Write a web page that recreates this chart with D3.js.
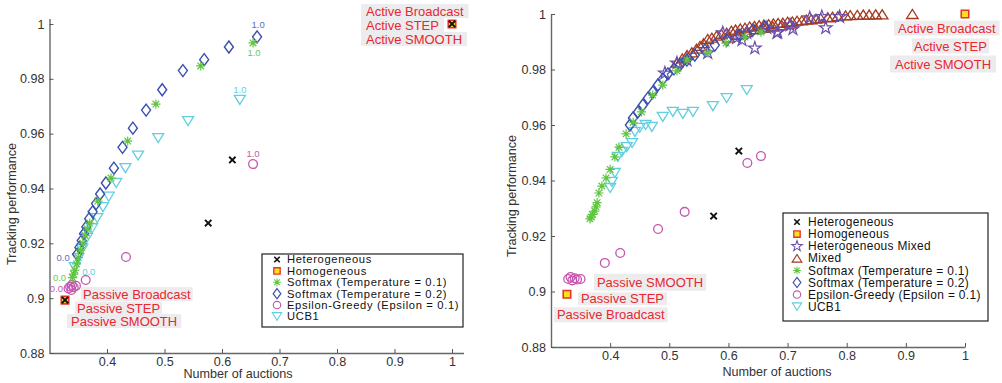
<!DOCTYPE html>
<html>
<head>
<meta charset="utf-8">
<script src="https://cdn.jsdelivr.net/npm/d3@7"></script>
<style>
  body { margin: 0; background: #fff; }
  svg { display: block; font-family: "Liberation Sans", Arial, sans-serif; }
</style>
</head>
<body>
<svg id="chart" width="1002" height="383"></svg>
<script>
// ---- data: [number of auctions, tracking performance] ----
const xTicks = [0.4, 0.5, 0.6, 0.7, 0.8, 0.9, 1]
const yTicks = [0.88, 0.9, 0.92, 0.94, 0.96, 0.98, 1]

// left panel
const leftSoftmax01 = [[0.340, 0.9075], [0.342, 0.9088], [0.344, 0.9102], [0.347, 0.9125], [0.350, 0.9148],
  [0.354, 0.9175], [0.358, 0.9200], [0.362, 0.9228], [0.366, 0.9252], [0.370, 0.9274], [0.384, 0.9354],
  [0.407, 0.9438], [0.436, 0.9573], [0.485, 0.9708], [0.563, 0.9847], [0.654, 0.9931]]
const leftSoftmax02 = [[0.348, 0.916], [0.352, 0.9185], [0.356, 0.921], [0.360, 0.9235], [0.364, 0.926],
  [0.369, 0.929], [0.375, 0.9315], [0.381, 0.9345], [0.388, 0.938], [0.398, 0.942], [0.412, 0.9474],
  [0.427, 0.955], [0.445, 0.962], [0.468, 0.9686], [0.496, 0.976], [0.532, 0.983], [0.569, 0.987],
  [0.612, 0.9916], [0.661, 0.9953]]
const leftUCB1 = [[0.344, 0.9113], [0.350, 0.9146], [0.357, 0.918], [0.365, 0.922], [0.374, 0.9255],
  [0.383, 0.9292], [0.393, 0.9332], [0.403, 0.937], [0.416, 0.942], [0.432, 0.9474], [0.454, 0.952],
  [0.489, 0.9584], [0.541, 0.9646], [0.631, 0.9723]]
const leftEpsilon = [[0.333, 0.9035], [0.336, 0.9042], [0.339, 0.9048], [0.342, 0.9040], [0.346, 0.9045],
  [0.338, 0.9030], [0.363, 0.9066], [0.433, 0.915], [0.654, 0.9489]]
const leftHetero = [[0.327, 0.8993], [0.576, 0.9274], [0.618, 0.9504], [1.0, 1.0]]
const leftHomog = [[0.327, 0.8993], [1.0, 1.0]]

// right panel
const rightSoftmax01 = [[0.366, 0.9262], [0.368, 0.9268], [0.370, 0.9278], [0.374, 0.929], [0.376, 0.9305],
  [0.378, 0.932], [0.381, 0.9355], [0.386, 0.938], [0.393, 0.9409], [0.400, 0.944], [0.408, 0.9485],
  [0.415, 0.952], [0.427, 0.9568], [0.439, 0.961], [0.453, 0.9647], [0.472, 0.9708], [0.489, 0.9744],
  [0.513, 0.9795], [0.530, 0.9834], [0.565, 0.986], [0.596, 0.9895], [0.628, 0.9917], [0.655, 0.9935]]
const rightSoftmax02 = [[0.4334, 0.96], [0.4385, 0.9625], [0.447, 0.9647], [0.4554, 0.9672], [0.4639, 0.9697],
  [0.4723, 0.9719], [0.4807, 0.9744], [0.4892, 0.9766], [0.4976, 0.9784], [0.5078, 0.9802], [0.5179, 0.9816],
  [0.5297, 0.9834], [0.5432, 0.9852], [0.5601, 0.987], [0.577, 0.9888], [0.5973, 0.9906], [0.6193, 0.9924],
  [0.6412, 0.9942], [0.6615, 0.9953]]
const rightUCB1 = [[0.400, 0.9373], [0.403, 0.9395], [0.408, 0.9427], [0.413, 0.9485], [0.420, 0.9503],
  [0.428, 0.952], [0.437, 0.9535], [0.442, 0.9575], [0.450, 0.959], [0.460, 0.960], [0.4706, 0.9593],
  [0.489, 0.9629], [0.506, 0.9647], [0.523, 0.964], [0.540, 0.9647], [0.5737, 0.9668], [0.597, 0.9697],
  [0.631, 0.9726]]
const rightEpsilon = [[0.329, 0.9045], [0.333, 0.9052], [0.336, 0.9040], [0.340, 0.9048], [0.344, 0.9043],
  [0.350, 0.9045], [0.391, 0.9103], [0.417, 0.9139], [0.481, 0.9225], [0.526, 0.9287], [0.632, 0.9463],
  [0.655, 0.9488]]
const rightHetero = [[0.575, 0.9272], [0.6176, 0.9506]]
const rightHomog = [[0.327, 0.899], [1.0, 1.0]]
const rightMixed = [[0.513, 0.9825], [0.522, 0.984], [0.530, 0.9852], [0.538, 0.9862], [0.546, 0.9875],
  [0.552, 0.9885], [0.558, 0.9895], [0.565, 0.991], [0.572, 0.9915], [0.580, 0.9922], [0.588, 0.9928],
  [0.597, 0.9933], [0.600, 0.9915], [0.605, 0.994], [0.612, 0.9944], [0.615, 0.9925], [0.620, 0.9948],
  [0.628, 0.9951], [0.630, 0.9935], [0.636, 0.9955], [0.644, 0.9957], [0.645, 0.9945], [0.652, 0.996],
  [0.660, 0.9962], [0.660, 0.995], [0.668, 0.9963], [0.675, 0.9955], [0.676, 0.9966], [0.684, 0.9968],
  [0.690, 0.996], [0.692, 0.9969], [0.700, 0.9972], [0.705, 0.9965], [0.708, 0.9973], [0.716, 0.9976],
  [0.724, 0.9977], [0.732, 0.998], [0.740, 0.9981], [0.748, 0.9983], [0.756, 0.9985], [0.768, 0.9988],
  [0.776, 0.999], [0.785, 0.9992], [0.798, 0.9995], [0.806, 0.9996], [0.818, 0.9997], [0.828, 0.9998],
  [0.838, 0.9998], [0.849, 0.9999], [0.860, 0.9999], [0.911, 1.0]]
const rightHeteroMixed = [[0.4926, 0.9787], [0.513, 0.9823], [0.530, 0.9834], [0.565, 0.986], [0.5905, 0.9932],
  [0.614, 0.9914], [0.623, 0.9906], [0.631, 0.9932], [0.6446, 0.9877], [0.665, 0.995], [0.682, 0.9932],
  [0.6834, 0.9935], [0.704, 0.996], [0.709, 0.9946], [0.7375, 0.9986], [0.758, 0.999], [0.7645, 0.995],
  [0.788, 0.999]]

const leftLegend = ['Heterogeneous', 'Homogeneous', 'Softmax (Temperature = 0.1)',
  'Softmax (Temperature = 0.2)', 'Epsilon-Greedy (Epsilon = 0.1)', 'UCB1']
const rightLegend = ['Heterogeneous', 'Homogeneous', 'Heterogeneous Mixed', 'Mixed',
  'Softmax (Temperature = 0.1)', 'Softmax (Temperature = 0.2)', 'Epsilon-Greedy (Epsilon = 0.1)', 'UCB1']

// ---- marker shapes ----
const diamond = (w, h) => ({ draw(c) { c.moveTo(0, -h / 2); c.lineTo(w / 2, 0); c.lineTo(0, h / 2); c.lineTo(-w / 2, 0); c.closePath() } })
const triDown = (w, h) => ({ draw(c) { c.moveTo(-w / 2, -h / 2); c.lineTo(w / 2, -h / 2); c.lineTo(0, h / 2); c.closePath() } })
const triUp = (w, h) => ({ draw(c) { c.moveTo(-w / 2, h / 2); c.lineTo(w / 2, h / 2); c.lineTo(0, -h / 2); c.closePath() } })
const square = s => ({ draw(c) { c.rect(-s / 2, -s / 2, s, s) } })
const times = r => ({ draw(c) { c.moveTo(-r, -r); c.lineTo(r, r); c.moveTo(-r, r); c.lineTo(r, -r) } })
const asterisk = r => ({
  draw(c) {
    const d = r * 0.72
    c.moveTo(-r, 0); c.lineTo(r, 0); c.moveTo(0, -r); c.lineTo(0, r)
    c.moveTo(-d, -d); c.lineTo(d, d); c.moveTo(-d, d); c.lineTo(d, -d)
  }
})

const styles = {
  'Heterogeneous': { type: times(3.2), stroke: '#111', fill: 'none', sw: 1.9 },
  'Homogeneous': { type: square(7.5), stroke: '#e8352a', fill: '#f7e21b', sw: 1.6 },
  'Heterogeneous Mixed': { type: d3.symbolStar, size: 50, stroke: '#6a4fae', fill: 'none', sw: 1.2 },
  'Mixed': { type: triUp(11.5, 9), stroke: '#a3391f', fill: 'none', sw: 1.3 },
  'Softmax (Temperature = 0.1)': { type: asterisk(4.6), stroke: '#5fc53f', fill: 'none', sw: 1.2 },
  'Softmax (Temperature = 0.2)': { type: diamond(9, 12), stroke: '#3a4fae', fill: 'none', sw: 1.4 },
  'Epsilon-Greedy (Epsilon = 0.1)': { type: d3.symbolCircle, size: 60, stroke: '#c355ad', fill: 'none', sw: 1.3 },
  'UCB1': { type: triDown(11, 9), stroke: '#62cfe0', fill: 'none', sw: 1.3 }
}
const paramColor = {
  'Softmax (Temperature = 0.1)': '#6cc850',
  'Softmax (Temperature = 0.2)': '#5a6fc0',
  'Epsilon-Greedy (Epsilon = 0.1)': '#c35aad',
  'UCB1': '#62cfe0'
}

const svg = d3.select('#chart')

function drawPanel(p) {
  const x = d3.scaleLinear().domain(p.xDomain).range(p.xRange)
  const y = d3.scaleLinear().domain(p.yDomain).range(p.yRange)
  const g = svg.append('g')

  const xAxis = d3.axisBottom(x).tickValues(xTicks).tickSize(-4).tickSizeOuter(0).tickPadding(4)
    .tickFormat(d => String(d))
  const yAxis = d3.axisLeft(y).tickValues(yTicks).tickSize(-4).tickSizeOuter(0).tickPadding(5)
    .tickFormat(d => String(+d.toFixed(2)))

  const gx = g.append('g').attr('transform', `translate(0,${p.yRange[0]})`).call(xAxis)
  const gy = g.append('g').attr('transform', `translate(${p.xRange[0]},0)`).call(yAxis)
  for (const ax of [gx, gy]) {
    ax.select('.domain').attr('stroke', '#666').attr('stroke-width', 1.4)
    ax.selectAll('.tick line').attr('stroke', '#555').attr('stroke-width', 1)
    ax.selectAll('.tick text').attr('fill', '#333').style('font-size', '12.6px')
      .style('font-family', '"Liberation Sans", Arial, sans-serif')
  }

  g.append('text')
    .attr('transform', `translate(${p.yLabelX},${p.yLabelY}) rotate(-90)`)
    .attr('text-anchor', 'middle').attr('fill', '#333').style('font-size', '12.6px')
    .text('Tracking performance')
  g.append('text')
    .attr('x', p.xLabelX).attr('y', p.xLabelY)
    .attr('text-anchor', 'middle').attr('fill', '#333').style('font-size', '12.6px')
    .text('Number of auctions')

  // annotation boxes next to the passive / active points
  for (const a of p.notes) {
    const px = x(a.at[0]) + a.dx
    const py = y(a.at[1]) + a.dy
    const grp = g.append('g')
    const rect = grp.append('rect').attr('fill', '#ececee')
    const t = grp.append('text').attr('x', px).attr('y', py).attr('dy', '0.35em')
      .attr('fill', '#ea2630').style('font-size', '13px').text(a.text)
    const len = t.node().getComputedTextLength()
    rect.attr('x', px - a.pad).attr('y', py - a.h / 2).attr('width', len + a.pad * 2).attr('height', a.h)
  }

  // markers
  for (const s of p.series) {
    const st = styles[s.name]
    const sym = d3.symbol().type(st.type).size(st.size || 64)
    g.append('g').selectAll('path').data(s.data).join('path')
      .attr('transform', d => `translate(${x(d[0])},${y(d[1])})`)
      .attr('d', sym)
      .attr('fill', st.fill).attr('stroke', st.stroke).attr('stroke-width', st.sw)
  }

  // parameter end labels (0.0 / 1.0)
  for (const l of p.paramLabels) {
    const d = l.end === 'first' ? l.data[0] : l.data[l.data.length - 1]
    g.append('text')
      .attr('x', x(d[0]) + l.dx).attr('y', y(d[1]) + l.dy).attr('dy', '0.35em')
      .attr('text-anchor', 'middle').attr('fill', paramColor[l.name])
      .style('font-size', '9.5px').text(l.end === 'first' ? '0.0' : '1.0')
  }

  // legend (rows are packed tightly, as in the original figure)
  const lg = g.append('g')
  lg.append('rect').attr('x', p.legend.x).attr('y', p.legend.y)
    .attr('width', p.legend.w).attr('height', p.legend.h)
    .attr('fill', '#fff').attr('stroke', '#222').attr('stroke-width', 1.2)
  p.legend.items.forEach((name, i) => {
    const st = styles[name]
    const ry = p.legend.firstRow + i * p.legend.step
    lg.append('path')
      .attr('transform', `translate(${p.legend.x + p.legend.symX},${ry}) scale(0.85)`)
      .attr('d', d3.symbol().type(st.type).size(st.size || 64))
      .attr('fill', st.fill).attr('stroke', st.stroke).attr('stroke-width', st.sw)
    lg.append('text').attr('x', p.legend.x + p.legend.textX).attr('y', ry).attr('dy', '0.35em')
      .attr('fill', '#111').style('font-size', p.legend.font + 'px')
      .style('letter-spacing', p.legend.spacing + 'px').text(name)
  })
}

drawPanel({
  xDomain: [0.3, 1.02], xRange: [49.5, 463.5],
  yDomain: [0.88, 1.002], yRange: [353, 18.5],
  yLabelX: 16, yLabelY: 204, xLabelX: 238, xLabelY: 378,
  series: [
    { name: 'UCB1', data: leftUCB1 },
    { name: 'Epsilon-Greedy (Epsilon = 0.1)', data: leftEpsilon },
    { name: 'Softmax (Temperature = 0.2)', data: leftSoftmax02 },
    { name: 'Softmax (Temperature = 0.1)', data: leftSoftmax01 },
    { name: 'Homogeneous', data: leftHomog },
    { name: 'Heterogeneous', data: leftHetero }
  ],
  paramLabels: [
    { name: 'Softmax (Temperature = 0.2)', data: leftSoftmax02, end: 'last', dx: 1, dy: -12 },
    { name: 'Softmax (Temperature = 0.1)', data: leftSoftmax01, end: 'last', dx: 1, dy: 10 },
    { name: 'UCB1', data: leftUCB1, end: 'last', dx: 0, dy: -10 },
    { name: 'Epsilon-Greedy (Epsilon = 0.1)', data: leftEpsilon, end: 'last', dx: 0, dy: -10 },
    { name: 'Softmax (Temperature = 0.2)', data: leftSoftmax02, end: 'first', dx: -14, dy: 3 },
    { name: 'Softmax (Temperature = 0.1)', data: leftSoftmax01, end: 'first', dx: -13, dy: 0 },
    { name: 'UCB1', data: leftUCB1, end: 'first', dx: 14, dy: 4 },
    { name: 'Epsilon-Greedy (Epsilon = 0.1)', data: leftEpsilon, end: 'first', dx: -12, dy: 0 }
  ],
  notes: [
    { text: 'Active Broadcast', at: [1.0, 1.0], dx: -86, dy: -13, pad: 5, h: 14 },
    { text: 'Active STEP', at: [1.0, 1.0], dx: -86, dy: 1, pad: 5, h: 14 },
    { text: 'Active SMOOTH', at: [1.0, 1.0], dx: -86, dy: 15, pad: 5, h: 14 },
    { text: 'Passive Broadcast', at: [0.327, 0.8993], dx: 18, dy: -6, pad: 2, h: 14 },
    { text: 'Passive STEP', at: [0.327, 0.8993], dx: 12, dy: 8, pad: 2, h: 13 },
    { text: 'Passive SMOOTH', at: [0.327, 0.8993], dx: 6, dy: 21, pad: 4, h: 14 }
  ],
  legend: { x: 262, y: 254, w: 201, h: 73, firstRow: 259.5, step: 11.4, symX: 15, textX: 25,
    font: 11.2, spacing: 0.65, items: leftLegend }
})

drawPanel({
  xDomain: [0.3, 1.0], xRange: [551, 965],
  yDomain: [0.88, 1.0], yRange: [347, 14],
  yLabelX: 516, yLabelY: 196, xLabelX: 777, xLabelY: 376,
  series: [
    { name: 'UCB1', data: rightUCB1 },
    { name: 'Epsilon-Greedy (Epsilon = 0.1)', data: rightEpsilon },
    { name: 'Mixed', data: rightMixed },
    { name: 'Heterogeneous Mixed', data: rightHeteroMixed },
    { name: 'Softmax (Temperature = 0.2)', data: rightSoftmax02 },
    { name: 'Softmax (Temperature = 0.1)', data: rightSoftmax01 },
    { name: 'Heterogeneous', data: rightHetero },
    { name: 'Homogeneous', data: rightHomog }
  ],
  paramLabels: [],
  notes: [
    { text: 'Active Broadcast', at: [1.0, 1.0], dx: -67, dy: 14, pad: 4, h: 15 },
    { text: 'Active STEP', at: [1.0, 1.0], dx: -51, dy: 32, pad: 2, h: 15 },
    { text: 'Active SMOOTH', at: [1.0, 1.0], dx: -70, dy: 50, pad: 5, h: 17 },
    { text: 'Passive SMOOTH', at: [0.327, 0.899], dx: 30, dy: -12, pad: 3, h: 17 },
    { text: 'Passive STEP', at: [0.327, 0.899], dx: 14, dy: 4.5, pad: 3, h: 13 },
    { text: 'Passive Broadcast', at: [0.327, 0.899], dx: -10, dy: 20.5, pad: 3, h: 15 }
  ],
  legend: { x: 783, y: 213, w: 205, h: 108, firstRow: 222, step: 12.1, symX: 14, textX: 25,
    font: 11.9, spacing: 0.35, items: rightLegend }
})
</script>
</body>
</html>
